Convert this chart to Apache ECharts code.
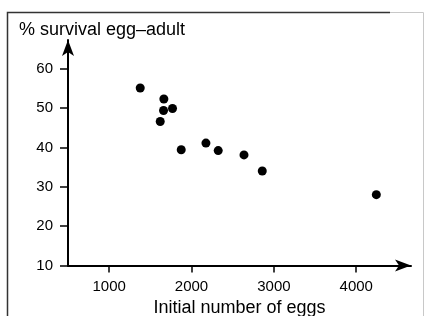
<!DOCTYPE html>
<html>
<head>
<meta charset="utf-8">
<script src="https://cdn.jsdelivr.net/npm/echarts@6/dist/echarts.min.js"></script>
<style>
  html, body { margin: 0; padding: 0; background: #fff; }
  #chart { width: 425px; height: 316px; }
</style>
</head>
<body>
<div id="chart"></div>
<script>
const eggs = [1377, 1664, 1660, 1769, 1620, 1875, 2175, 2324, 2637, 2859, 4244];
const survival = [55.1, 52.3, 49.4, 49.9, 46.6, 39.4, 41.1, 39.2, 38.1, 34.0, 28.0];
const xTicks = [1000, 2000, 3000, 4000];

const font = "'Liberation Sans', Arial, sans-serif";
const ink = "#000";

const chart = echarts.init(document.getElementById("chart"), null, { renderer: "canvas" });
chart.setOption({
  animation: false,
  title: {
    text: "% survival egg\u2013adult",
    left: 14,
    top: 16,
    textStyle: { fontFamily: font, fontSize: 18, fontWeight: "normal", color: ink },
  },
  grid: { left: 68, right: 14, top: 40, bottom: 50.5, outerBoundsMode: "none" },
  xAxis: {
    type: "value",
    min: 500,
    max: 4665,
    name: "Initial number of eggs",
    nameLocation: "middle",
    nameGap: 22,
    nameTextStyle: { fontFamily: font, fontSize: 18, color: ink },
    splitLine: { show: false },
    axisLine: {
      show: true,
      onZero: false,
      symbol: ["none", "arrow"],
      symbolSize: [9, 16],
      lineStyle: { color: ink, width: 2 },
    },
    axisTick: { show: true, customValues: xTicks, length: 7, lineStyle: { color: ink, width: 1.5 } },
    axisLabel: {
      customValues: xTicks, margin: 14, fontFamily: font, fontSize: 15, color: ink,
      formatter: (v) => String(v),
    },
  },
  yAxis: {
    type: "value",
    min: 10,
    max: 67.3,
    interval: 10,
    splitLine: { show: false },
    axisLine: {
      show: true,
      onZero: false,
      symbol: ["none", "arrow"],
      symbolSize: [9, 16],
      lineStyle: { color: ink, width: 2 },
    },
    axisTick: { show: true, length: 8, lineStyle: { color: ink, width: 1.5 } },
    axisLabel: { margin: 15, fontFamily: font, fontSize: 15, color: ink, showMaxLabel: false },
  },
  graphic: [
    {
      type: "polyline",
      shape: { points: [[7.5, 330], [7.5, 12.5], [390, 12.5]] },
      style: { fill: null, stroke: "#333", lineWidth: 1.5 },
      silent: true,
    },
    {
      type: "polyline",
      shape: { points: [[390, 12.5], [423.5, 12.5], [423.5, 330]] },
      style: { fill: null, stroke: "#c8c8c8", lineWidth: 1 },
      silent: true,
    },
  ],
  series: [{
    type: "scatter",
    data: eggs.map((x, i) => [x, survival[i]]),
    symbol: "circle",
    symbolSize: 9,
    itemStyle: { color: ink, opacity: 1 },
  }],
});
</script>
</body>
</html>
